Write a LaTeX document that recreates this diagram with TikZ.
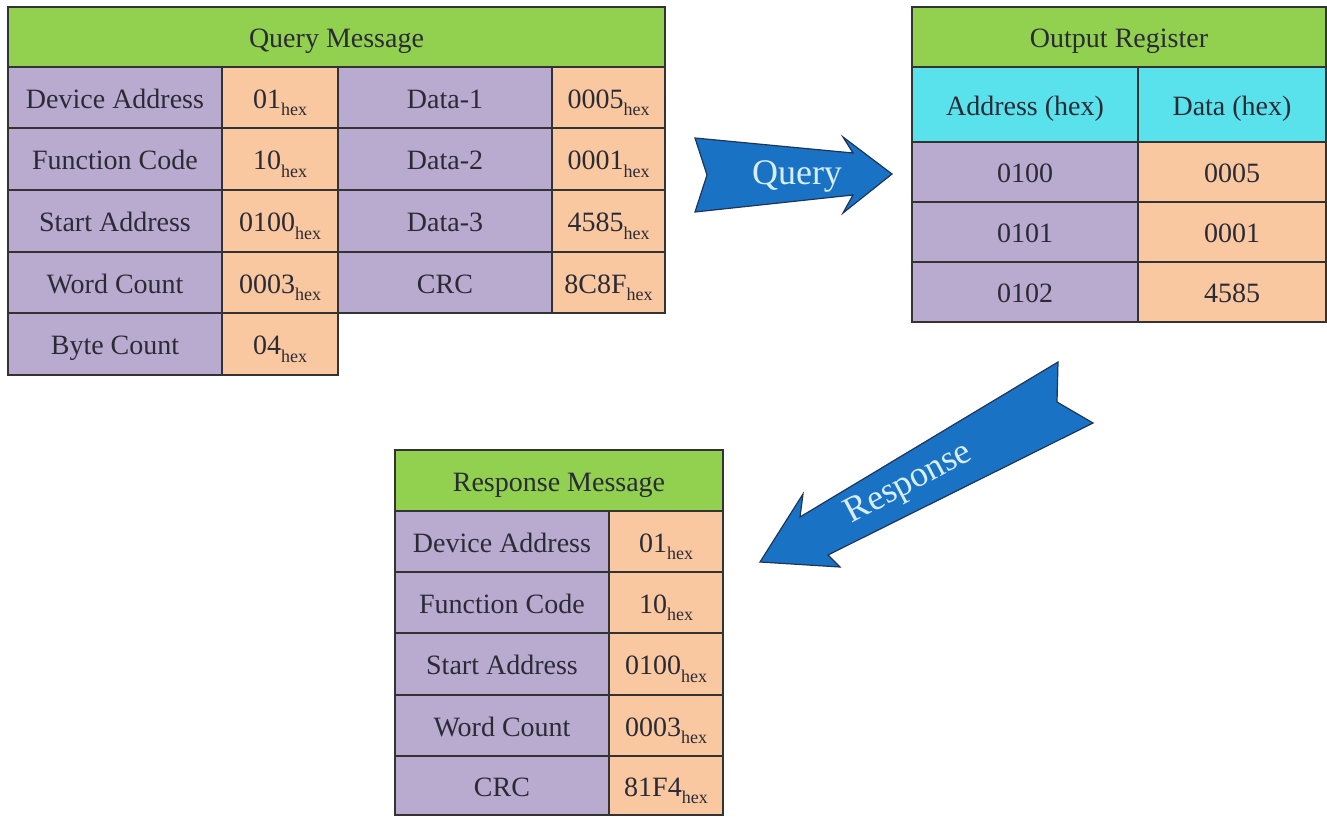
\documentclass[tikz,border=0pt]{standalone}
\usepackage{fontspec}
\setmainfont{Liberation Serif}
\definecolor{hdrgreen}{HTML}{92D050}
\definecolor{lav}{HTML}{B9ABCF}
\definecolor{peach}{HTML}{FAC8A0}
\definecolor{cyanc}{HTML}{5AE2EC}
\definecolor{arrowblue}{HTML}{1A72C4}
\definecolor{arrowedge}{HTML}{1D3557}
\definecolor{arrowtext}{HTML}{D8EEFB}
\definecolor{txt}{HTML}{2B2B36}
\newcommand\hx{\raisebox{-0.28em}[0pt][0pt]{\fontsize{18}{18}\selectfont hex}}
% name, x1, y1, x2, y2, style, text
\newcommand\cbox[7]{\pgfmathsetmacro\cw{#4-#2}\pgfmathsetmacro\ch{#5-#3}%
  \node[#6, minimum width=\cw pt, minimum height=\ch pt] (#1) at ({(#2+#4)/2},{(#3+#5)/2}) {#7};}
\begin{document}
\begin{tikzpicture}[x=1pt,y=-1pt,
  cellbase/.style={draw=black!80, line width=1.3pt, inner sep=0pt, outer sep=0pt,
     text=txt, font=\fontsize{28}{30}\selectfont, text height=21pt, text depth=0pt},
  low/.style={text height=24pt},
  hdr/.style={cellbase, fill=hdrgreen},
  lcell/.style={cellbase, fill=lav},
  pcell/.style={cellbase, fill=peach},
  ccell/.style={cellbase, fill=cyanc},
  bigarrow/.style={fill=arrowblue, draw=arrowedge, line width=1.2pt, line join=miter},
  arrowlabel/.style={text=arrowtext, font=\fontsize{36}{38}\selectfont, inner sep=0pt}]
\useasboundingbox (0,0) rectangle (1327,816);
\fill[white] (0,0) rectangle (1327,816);

% Query message table
\begin{scope}[every node/.append style={low}]
\cbox{qh}{8}{7}{665}{67}{hdr}{Query Message}
\cbox{q11}{8}{67}{222}{128}{lcell}{Device Address}
\cbox{q12}{222}{67}{338}{128}{pcell}{01\hx}
\cbox{q13}{338}{67}{552}{128}{lcell}{Data-1}
\cbox{q14}{552}{67}{665}{128}{pcell}{0005\hx}
\cbox{q21}{8}{128}{222}{190}{lcell}{Function Code}
\cbox{q22}{222}{128}{338}{190}{pcell}{10\hx}
\cbox{q23}{338}{128}{552}{190}{lcell}{Data-2}
\cbox{q24}{552}{128}{665}{190}{pcell}{0001\hx}
\cbox{q31}{8}{190}{222}{252}{lcell}{Start Address}
\cbox{q32}{222}{190}{338}{252}{pcell}{0100\hx}
\cbox{q33}{338}{190}{552}{252}{lcell}{Data-3}
\cbox{q34}{552}{190}{665}{252}{pcell}{4585\hx}
\cbox{q41}{8}{252}{222}{313}{lcell}{Word Count}
\cbox{q42}{222}{252}{338}{313}{pcell}{0003\hx}
\cbox{q43}{338}{252}{552}{313}{lcell}{CRC}
\cbox{q44}{552}{252}{665}{313}{pcell}{8C8F\hx}
\cbox{q51}{8}{313}{222}{375}{lcell}{Byte Count}
\cbox{q52}{222}{313}{338}{375}{pcell}{04\hx}
\end{scope}

% Output register table
\cbox{oh}{912}{7}{1326}{67}{hdr}{Output Register}
\cbox{oc1}{912}{67}{1138}{142}{ccell}{Address (hex)}
\cbox{oc2}{1138}{67}{1326}{142}{ccell}{Data (hex)}
\cbox{o11}{912}{142}{1138}{202}{lcell}{0100}
\cbox{o12}{1138}{142}{1326}{202}{pcell}{0005}
\cbox{o21}{912}{202}{1138}{262}{lcell}{0101}
\cbox{o22}{1138}{202}{1326}{262}{pcell}{0001}
\cbox{o31}{912}{262}{1138}{322}{lcell}{0102}
\cbox{o32}{1138}{262}{1326}{322}{pcell}{4585}

% Response message table
\cbox{rh}{395}{450}{723}{511}{hdr}{Response Message}
\cbox{r11}{395}{511}{609}{572}{lcell}{Device Address}
\cbox{r12}{609}{511}{723}{572}{pcell}{01\hx}
\cbox{r21}{395}{572}{609}{633}{lcell}{Function Code}
\cbox{r22}{609}{572}{723}{633}{pcell}{10\hx}
\cbox{r31}{395}{633}{609}{695}{lcell}{Start Address}
\cbox{r32}{609}{633}{723}{695}{pcell}{0100\hx}
\cbox{r41}{395}{695}{609}{756}{lcell}{Word Count}
\cbox{r42}{609}{695}{723}{756}{pcell}{0003\hx}
\cbox{r51}{395}{756}{609}{815}{lcell}{CRC}
\cbox{r52}{609}{756}{723}{815}{pcell}{81F4\hx}

% Query arrow
\draw[bigarrow] (695,138) -- (853,153) -- (843,137) -- (892,174) -- (843,213)
  -- (853,195) -- (695,212) -- (707,175) -- cycle;
\node[arrowlabel] (qlabel) at (797,176) {Query};

% Response arrow
\draw[bigarrow] (1058,362) -- (1057,402) -- (1093,423) -- (828,555) -- (840,567)
  -- (760,562) -- (803,494) -- (800,517) -- cycle;
\node[arrowlabel, rotate=28] (rlabel) at (909,484) {Response};
\end{tikzpicture}
\end{document}
